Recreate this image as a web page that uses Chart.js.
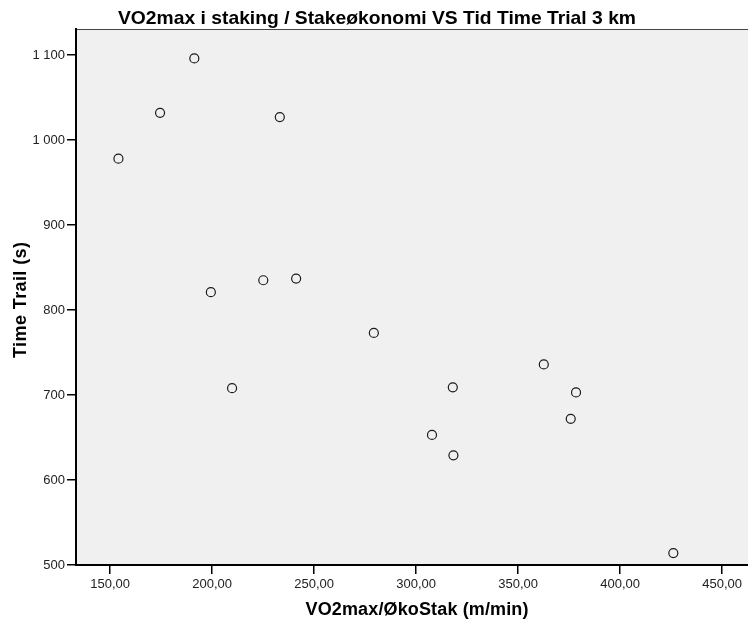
<!DOCTYPE html>
<html>
<head>
<meta charset="utf-8">
<script src="https://cdn.jsdelivr.net/npm/chart.js@4.4.1/dist/chart.umd.min.js"></script>
<style>
  body { margin: 0; background: #fff; }
  canvas { display: block; }
</style>
</head>
<body>
<canvas id="chart" width="748" height="621"></canvas>
<script>
// VO2max / stakeøkonomi (m/min) vs time trial 3 km (s)
const vo2Stak = [191.3, 174.5, 233.2, 154.1, 199.4, 225.1, 241.2, 279.3, 209.8, 362.6, 318.0, 378.4, 375.8, 307.8, 318.3, 426.1];
const timeTrial = [1096, 1032, 1027, 978, 821, 835, 837, 773, 708, 736, 709, 703, 672, 653, 629, 514];
const xTicks = [150, 200, 250, 300, 350, 400, 450];
const yTicks = [500, 600, 700, 800, 900, 1000, 1100];

const chartTitle = 'VO2max i staking / Stakeøkonomi VS Tid Time Trial 3 km';
const xTitle = 'VO2max/ØkoStak (m/min)';
const yTitle = 'Time Trail (s)';

const points = vo2Stak.map((v, i) => ({ x: v, y: timeTrial[i] }));

// draw text spaced out to a given width, centred on x
function spacedText(ctx, text, x, y, target) {
  ctx.letterSpacing = '0px';
  const w = ctx.measureText(text).width;
  const gap = (target - w) / (text.length - 1);
  ctx.letterSpacing = gap + 'px';
  ctx.textAlign = 'left';
  ctx.fillText(text, x - target / 2, y);
  ctx.letterSpacing = '0px';
}

const plotBox = {
  id: 'plotBox',
  beforeDraw(chart) {
    const { ctx, chartArea: a } = chart;
    ctx.save();
    ctx.fillStyle = '#f0f0f0';
    ctx.fillRect(a.left, a.top, a.right - a.left, a.bottom - a.top);
    ctx.strokeStyle = '#444';
    ctx.lineWidth = 1;
    ctx.beginPath();
    ctx.moveTo(a.left, a.top + 0.5);
    ctx.lineTo(a.right, a.top + 0.5);
    ctx.stroke();
    ctx.restore();
  },
  afterDraw(chart) {
    const { ctx } = chart;
    ctx.save();
    ctx.fillStyle = '#000';
    ctx.textBaseline = 'alphabetic';

    // main title, fitted to its width in the original
    ctx.font = 'bold 19px "Liberation Sans", Arial, sans-serif';
    ctx.textAlign = 'left';
    const w = ctx.measureText(chartTitle).width;
    ctx.save();
    ctx.translate(118, 24);
    ctx.scale(518 / w, 1);
    ctx.fillText(chartTitle, 0, 0);
    ctx.restore();

    // x axis title
    ctx.font = 'bold 18px "Liberation Sans", Arial, sans-serif';
    spacedText(ctx, xTitle, 417, 615, 223);

    // y axis title
    ctx.save();
    ctx.translate(26, 300);
    ctx.rotate(-Math.PI / 2);
    spacedText(ctx, yTitle, 0, 0, 116);
    ctx.restore();

    ctx.restore();
  }
};

const fmtX = v => v.toFixed(2).replace('.', ',');
const fmtY = v => String(v).replace(/\B(?=(\d{3})+(?!\d))/g, ' ');

new Chart(document.getElementById('chart'), {
  type: 'scatter',
  data: {
    datasets: [{
      data: points,
      pointRadius: 4.5,
      pointHoverRadius: 4.5,
      pointBorderWidth: 1.2,
      pointBorderColor: '#1a1a1a',
      pointBackgroundColor: 'rgba(0,0,0,0)'
    }]
  },
  options: {
    responsive: false,
    animation: false,
    layout: { autoPadding: false, padding: { top: 29, right: 0, left: 0, bottom: 0 } },
    plugins: { legend: { display: false }, tooltip: { enabled: false } },
    scales: {
      x: {
        type: 'linear',
        min: 133.3,
        max: 462.7,
        afterBuildTicks: s => { s.ticks = xTicks.map(v => ({ value: v })); },
        afterFit: s => { s.height = 56; s.paddingLeft = 0; s.paddingRight = 0; },
        border: { color: '#000', width: 2 },
        grid: { drawOnChartArea: false, drawTicks: true, tickLength: 9, color: '#000', lineWidth: 1.5 },
        ticks: { color: '#222', padding: 3, font: { family: 'Arial, "Liberation Sans"', size: 13 }, callback: v => fmtX(v), maxRotation: 0 }
      },
      y: {
        type: 'linear',
        min: 500,
        max: 1130.6,
        afterBuildTicks: s => { s.ticks = yTicks.map(v => ({ value: v })); },
        afterFit: s => { s.width = 76; s.paddingTop = 0; s.paddingBottom = 0; },
        border: { color: '#000', width: 2 },
        grid: { drawOnChartArea: false, drawTicks: true, tickLength: 9, color: '#000', lineWidth: 1.5 },
        ticks: { color: '#222', padding: 2, font: { family: 'Arial, "Liberation Sans"', size: 13 }, callback: v => fmtY(v) }
      }
    }
  },
  plugins: [plotBox]
});
</script>
</body>
</html>
